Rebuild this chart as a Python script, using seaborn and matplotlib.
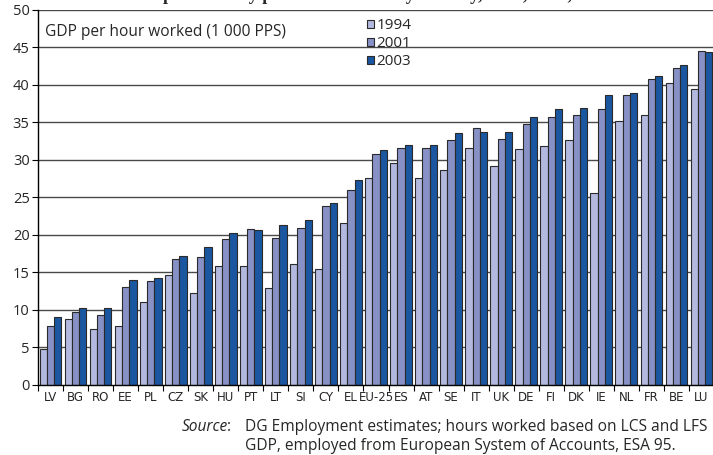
import numpy as np
import pandas as pd
import matplotlib
matplotlib.use("Agg")
import matplotlib.pyplot as plt
import seaborn as sns

countries = ["LV", "BG", "RO", "EE", "PL", "CZ", "SK", "HU", "PT", "LT", "SI", "CY", "EL", "EU-25",
             "ES", "AT", "SE", "IT", "UK", "DE", "FI", "DK", "IE", "NL", "FR", "BE", "LU"]
v1994 = [4.8, 8.8, 7.4, 7.9, 11.0, 14.6, 12.3, 15.8, 15.9, 12.9, 16.1, 15.4, 21.6, 27.5,
         29.5, 27.5, 28.6, 31.5, 29.1, 31.4, 31.8, 32.6, 25.6, 35.1, 36.0, 40.2, 39.4]
v2001 = [7.8, 9.7, 9.3, 13.1, 13.8, 16.8, 17.0, 19.4, 20.8, 19.6, 20.9, 23.9, 25.9, 30.8,
         31.6, 31.6, 32.6, 34.2, 32.8, 34.8, 35.7, 36.0, 36.8, 38.6, 40.7, 42.2, 44.5]
v2003 = [9.0, 10.2, 10.3, 14.0, 14.2, 17.2, 18.4, 20.2, 20.7, 21.3, 22.0, 24.2, 27.3, 31.3,
         32.0, 32.0, 33.6, 33.7, 33.7, 35.7, 36.8, 36.9, 38.6, 38.9, 41.1, 42.6, 44.4]
years = ["1994", "2001", "2003"]
colors = ["#b3b9de", "#8891c6", "#1b56a0"]

df = pd.DataFrame({
    "country": countries * 3,
    "year": [years[0]] * len(countries) + [years[1]] * len(countries) + [years[2]] * len(countries),
    "value": v1994 + v2001 + v2003,
})

sns.set_theme(style="white")
plt.rcParams["font.family"] = ["Open Sans", "DejaVu Sans"]

fig = plt.figure(figsize=(7.13, 4.55), dpi=100)
ax = fig.add_axes([38 / 713, 1 - 385 / 455, 676 / 713, (385 - 9.5) / 455])

sns.barplot(data=df, x="country", y="value", hue="year", palette=colors,
            width=0.87, gap=0, edgecolor="#2a2a2a", linewidth=0.8,
            saturation=1, ax=ax, zorder=3, legend=True)

ax.set_ylim(0, 50)
ax.set_xlim(-0.5, len(countries) - 0.5)
ax.set_yticks(np.arange(0, 51, 5))
for y in np.arange(5, 51, 5):
    ax.axhline(y, color="#4a4a4a", linewidth=1.0, zorder=1)

ax.set_xlabel("")
ax.set_ylabel("")
for s in ["top", "right"]:
    ax.spines[s].set_visible(False)
for s in ["left", "bottom"]:
    ax.spines[s].set_color("black")
    ax.spines[s].set_linewidth(1.0)
    ax.spines[s].set_zorder(5)

ax.set_xticks(np.arange(-0.5, len(countries), 1), minor=True)
ax.tick_params(axis="x", which="major", length=0, pad=4)
ax.tick_params(axis="x", which="minor", length=4, width=0.8, color="black", direction="out", bottom=True)
ax.tick_params(axis="y", length=4, width=0.8, color="black", direction="out", left=True, pad=2)
for lab in ax.get_xticklabels():
    lab.set_family(["Liberation Sans Narrow", "DejaVu Sans"])
    lab.set_fontsize(8.5)
for lab in ax.get_yticklabels():
    lab.set_fontsize(10.5)

ax.text(45 / 713, 1 - 32 / 455, "GDP per hour worked (1 000 PPS)", transform=fig.transFigure,
        fontsize=11.2, va="center", ha="left")

leg = ax.legend(loc="upper left", bbox_to_anchor=(358 / 713, 1 - 9 / 455),
                bbox_transform=fig.transFigure, frameon=False, fontsize=11,
                handlelength=0.45, handleheight=0.45, handletextpad=0.15,
                labelspacing=0.2, borderpad=0.1)

fig.text(0.5, 1 + 0.5 / 455, "Labour productivity per hour worked by country, 1994, 2001, 2003",
         family=["Liberation Serif", "DejaVu Serif"], fontweight="bold", fontsize=13,
         ha="center", va="baseline")

src_y1 = 1 - 427 / 455
src_y2 = 1 - 446 / 455
fs = 11.2
t_src = fig.text(182 / 713, src_y1, "Source", style="italic", fontsize=fs, va="center", ha="left")
fig.canvas.draw()
bb = t_src.get_window_extent(renderer=fig.canvas.get_renderer())
fig.text((bb.x1 - 1.5) / fig.bbox.width, src_y1, ":", fontsize=fs, va="center", ha="left")
fig.text(245 / 713, src_y1, "DG Employment estimates; hours worked based on LCS and LFS",
         fontsize=fs, va="center", ha="left")
fig.text(245 / 713, src_y2, "GDP, employed from European System of Accounts, ESA 95.",
         fontsize=fs, va="center", ha="left")

fig.savefig("out.png", dpi=100)
